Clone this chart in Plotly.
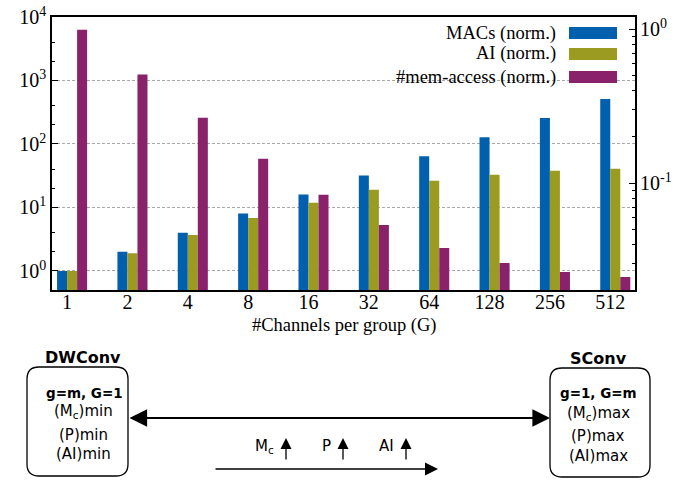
import plotly.graph_objects as go

# ---------------- data ----------------
categories = ["1", "2", "4", "8", "16", "32", "64", "128", "256", "512"]
macs_norm = [1, 2, 4, 8, 16, 32, 64, 128, 256, 512]
ai_norm = [1, 1.9, 3.7, 6.8, 11.9, 19, 26.3, 32.7, 37.8, 40.6]
mem_norm = [6300, 1240, 260, 58.5, 15.8, 5.3, 2.3, 1.34, 0.96, 0.80]
series_names = ["MACs (norm.)", "AI (norm.)", "#mem-access (norm.)"]
series_colors = ["#0060ad", "#9a9b20", "#89216b"]
x_title = "#Channels per group (G)"

left_tick_vals = [1, 10, 100, 1000, 10000]
left_tick_text = ["10<sup>0</sup>", "10<sup>1</sup>", "10<sup>2</sup>", "10<sup>3</sup>", "10<sup>4</sup>"]
right_tick_vals = [0.1, 1]
right_tick_text = ["10<sup>-1</sup>", "10<sup>0</sup>"]

# ---------------- geometry helpers ----------------
W, H = 700, 481
PL, PR, PT, PB = 52, 635, 17, 290  # plot area in pixels
PW, PH = PR - PL, PB - PT


def px(x):
    return (x - PL) / PW


def py(y):
    return (PB - y) / PH


SERIF = "Liberation Serif, Times New Roman, serif"
SANS = "DejaVu Sans, Arial, sans-serif"

xs = list(range(len(categories)))
bw = 0.166
offsets = [-bw, 0, bw]

fig = go.Figure()
for name, vals, color, off in zip(series_names, [macs_norm, ai_norm, mem_norm], series_colors, offsets):
    fig.add_trace(go.Bar(x=xs, y=vals, name=name, width=bw, offset=off,
                         marker=dict(color=color, line=dict(width=0)), showlegend=False))
# invisible trace to activate the right axis
fig.add_trace(go.Scatter(x=[None], y=[None], yaxis="y2", showlegend=False, hoverinfo="skip"))

left_minor = [m * 10 ** k for k in range(0, 4) for m in (2, 4)]
right_minor = [m * 10 ** k for k in (-2, -1) for m in range(2, 10)]

fig.update_layout(
    width=W, height=H,
    margin=dict(l=PL, r=W - PR, t=PT, b=H - PB),
    paper_bgcolor="white", plot_bgcolor="white",
    barmode="overlay", showlegend=False,
    font=dict(family=SERIF, color="black"),
    xaxis=dict(range=[-0.25, 9.41], tickmode="array", tickvals=xs, ticktext=categories,
               showline=True, linecolor="black", linewidth=1.5, mirror=True,
               ticks="", showgrid=False, zeroline=False, automargin=False, ticklabelstandoff=-7,
               tickfont=dict(family=SERIF, size=20, color="black")),
    yaxis=dict(type="log", range=[-0.3, 4.0], tickmode="array", tickvals=left_tick_vals, ticktext=left_tick_text,
               ticks="inside", ticklen=6, tickcolor="black", tickwidth=1, automargin=False,
               showline=True, linecolor="black", linewidth=1.5, mirror=True,
               showgrid=True, gridcolor="#a8a8a8", gridwidth=1, griddash="3px,2px", zeroline=False,
               tickfont=dict(family=SERIF, size=20, color="black"),
               minor=dict(tickmode="array", tickvals=left_minor, ticks="inside", ticklen=3,
                          tickcolor="black", showgrid=False)),
    yaxis2=dict(type="log", overlaying="y", side="right", range=[-1.693, 0.08],
                tickmode="array", tickvals=right_tick_vals, ticktext=right_tick_text,
                ticks="inside", ticklen=6, tickcolor="black", tickwidth=1, automargin=False,
                showline=False, showgrid=False, zeroline=False, ticklabelstandoff=4,
                tickfont=dict(family=SERIF, size=20, color="black"),
                minor=dict(tickmode="array", tickvals=right_minor, ticks="inside", ticklen=3,
                           tickcolor="black", showgrid=False)),
)

shapes = []
annotations = []

# x-axis title
annotations.append(dict(text=x_title, xref="paper", yref="paper", x=px((PL + PR) / 2), y=py(325),
                        xanchor="center", yanchor="middle", showarrow=False,
                        font=dict(family=SERIF, size=18.5, color="black")))

# legend background box (between gridlines and bars)
shapes.append(dict(type="rect", xref="paper", yref="paper", x0=px(345), x1=px(627), y0=py(152), y1=py(PT + 1),
                   fillcolor="white", line=dict(width=0), layer="between"))

# manual legend (text right, swatch on right)
legend_rows = [33, 54, 77]
for name, color, yrow in zip(series_names, series_colors, legend_rows):
    annotations.append(dict(text=name, xref="paper", yref="paper", x=px(558), y=py(yrow),
                            xanchor="right", yanchor="middle", showarrow=False,
                            font=dict(family=SERIF, size=18.5, color="black")))
    shapes.append(dict(type="rect", xref="paper", yref="paper", x0=px(569), x1=px(617),
                       y0=py(yrow + 6), y1=py(yrow - 6), fillcolor=color, line=dict(width=0), layer="above"))


# ---------------- lower diagram ----------------
def rounded_box(x0, y0, x1, y1, r):
    pts = [
        ("M", [(x0 + r, y0)]),
        ("L", [(x1 - r, y0)]),
        ("Q", [(x1, y0), (x1, y0 + r)]),
        ("L", [(x1, y1 - r)]),
        ("Q", [(x1, y1), (x1 - r, y1)]),
        ("L", [(x0 + r, y1)]),
        ("Q", [(x0, y1), (x0, y1 - r)]),
        ("L", [(x0, y0 + r)]),
        ("Q", [(x0, y0), (x0 + r, y0)]),
    ]
    s = ""
    for cmd, ps in pts:
        s += cmd + " " + " ".join(f"{px(a):.5f},{py(b):.5f}" for a, b in ps) + " "
    return s + "Z"


shapes.append(dict(type="path", xref="paper", yref="paper", path=rounded_box(27, 367, 128, 476, 12),
                   line=dict(color="black", width=1.3), fillcolor="rgba(0,0,0,0)"))
shapes.append(dict(type="path", xref="paper", yref="paper", path=rounded_box(550, 368, 650, 477, 12),
                   line=dict(color="black", width=1.3), fillcolor="rgba(0,0,0,0)"))


def txt(text, x, y, size=15):
    annotations.append(dict(text=text, xref="paper", yref="paper", x=px(x), y=py(y),
                            xanchor="center", yanchor="middle", showarrow=False,
                            font=dict(family=SANS, size=size, color="black")))


txt("<b>DWConv</b>", 83, 357, 16)
txt("<b>g=m, G=1</b>", 84, 393, 13.5)
txt("(M<sub>c</sub>)min", 83, 411)
txt("(P)min", 83, 435)
txt("(AI)min", 83, 454)

txt("<b>SConv</b>", 598, 358, 16)
txt("<b>g=1, G=m</b>", 598, 393, 13.5)
txt("(M<sub>c</sub>)max", 598, 413)
txt("(P)max", 598, 436)
txt("(AI)max", 598, 456)

txt("M<sub>c</sub>", 264, 446)
txt("P", 326, 446)
txt("AI", 386, 446)


def arrow(xh, yh, xt, yt, width, size, both=False):
    a = dict(text="", xref="paper", yref="paper", x=px(xh), y=py(yh),
             ax=xt - xh, ay=yt - yh, axref="pixel", ayref="pixel",
             showarrow=True, arrowhead=2, arrowsize=size, arrowwidth=width,
             arrowcolor="black", standoff=0, startstandoff=0)
    if both:
        a.update(arrowside="end+start", startarrowhead=2, startarrowsize=size)
    annotations.append(a)


arrow(550, 418, 128, 418, 2.2, 1.6, both=True)
arrow(438, 469, 214, 469, 1.3, 2.0)
for xa in (286, 343, 406):
    arrow(xa, 438, xa, 461, 1.3, 1.7)

fig.update_layout(shapes=shapes, annotations=annotations)
fig.write_html("out.html", config={"displayModeBar": False},
               post_script="document.body.style.margin='0';document.body.style.overflow='hidden';")
